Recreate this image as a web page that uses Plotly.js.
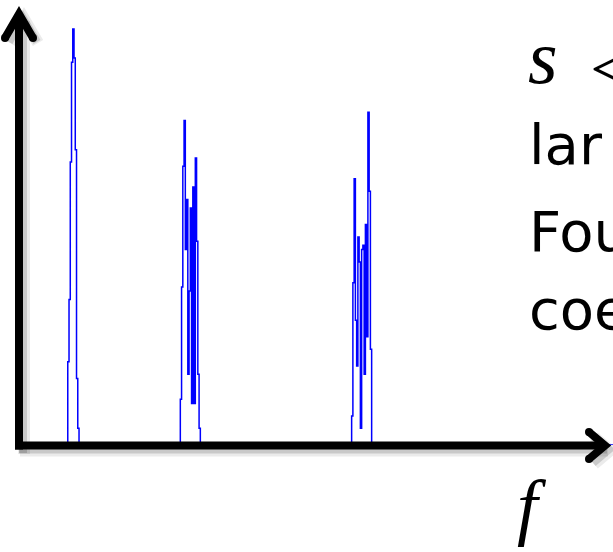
<!DOCTYPE html>
<html>
<head>
<meta charset="utf-8">
<script src="https://cdn.plot.ly/plotly-3.0.1.min.js"></script>
<style>html,body{margin:0;padding:0;background:#fff;overflow:hidden}#chart{width:613px;height:552px}</style>
</head>
<body>
<div id="chart"></div>
<script>
// Spectrum: three narrow clusters of Fourier coefficients (normalised magnitude)
const spikeStarts = [39, 129, 266];          // first frequency bin of each cluster
const spike1 = [0.20, 0.35, 0.68, 0.92, 1.00, 0.93, 0.71, 0.16, 0.04];
const spike2 = [0.11, 0.38, 0.67, 0.78, 0.47, 0.59, 0.17, 0.37, 0.57, 0.10, 0.62, 0.10, 0.69, 0.49, 0.17, 0.04];
const spike3 = [0.07, 0.39, 0.64, 0.30, 0.19, 0.50, 0.44, 0.04, 0.47, 0.48, 0.17, 0.53, 0.26, 0.80, 0.61, 0.23];
const freqMax = 475;
const textLines = ["lar", "Fou", "coe"];

const spikes = [spike1, spike2, spike3];
const xs = [0], ys = [0];
spikes.forEach((a, k) => {
  const s = spikeStarts[k];
  xs.push(s - 1); ys.push(0);
  a.forEach((v, i) => { xs.push(s + i); ys.push(v); });
  xs.push(s + a.length); ys.push(0);
});
xs.push(freqMax); ys.push(0);

// pixel -> paper helpers (plot area: left 19, top 0, width 594, height 445)
const W = 594, H = 445, L = 19;
const px = x => (x - L) / W;
const py = y => (H - y) / H;

const shapes = [];
function seg(x0, y0, x1, y1, color, width, layer) {
  shapes.push({type: 'line', xref: 'paper', yref: 'paper', x0: px(x0), y0: py(y0), x1: px(x1), y1: py(y1),
    line: {color: color, width: width}, layer: layer});
}
function path(pts, color, width, layer) {
  const d = pts.map((p, i) => (i ? 'L' : 'M') + px(p[0]) + ',' + py(p[1])).join(' ');
  shapes.push({type: 'path', xref: 'paper', yref: 'paper', path: d, line: {color: color, width: width}, layer: layer});
}
function dot(x, y, r, color, layer) {
  shapes.push({type: 'circle', xref: 'paper', yref: 'paper', x0: px(x - r), x1: px(x + r), y0: py(y + r), y1: py(y - r),
    fillcolor: color, line: {width: 0}, layer: layer});
}
// soft shadows
[[5, 'rgba(0,0,0,0.08)', 12], [4, 'rgba(0,0,0,0.14)', 8]].forEach(([o, c, w]) => {
  seg(19 + o, 449 + o, 19 + o, 16 + o, c, w, 'below');
  seg(15 + o, 445.5 + o, 603 + o, 445.5 + o, c, w, 'below');
  path([[5 + o, 38 + o], [19 + o, 14 + o], [33 + o, 38 + o]], c, w, 'below');
  path([[589 + o, 432 + o], [605 + o, 445.5 + o], [589 + o, 459 + o]], c, w, 'below');
});
// axes
seg(19, 449.5, 19, 16, '#000', 8, 'above');
seg(15, 445.5, 603, 445.5, '#000', 8, 'above');
path([[5, 38], [19, 14], [33, 38]], '#000', 8, 'above');
dot(5, 38, 4, '#000', 'above'); dot(33, 38, 4, '#000', 'above');
path([[589, 432], [605, 445.5], [589, 459]], '#000', 8, 'above');
dot(589, 432, 4, '#000', 'above'); dot(589, 459, 4, '#000', 'above');

const sans = {family: 'DejaVu Sans', size: 56, color: '#000'};
const annotations = [
  {text: '<i>s</i>', x: px(527), y: py(100), xanchor: 'left', yanchor: 'bottom',
   font: {family: 'Liberation Serif', size: 76, color: '#000'}},
  {text: '&lt;', x: px(589), y: py(110), xanchor: 'left', yanchor: 'bottom',
   font: {family: 'Liberation Serif', size: 72, color: '#000'}},
  {text: '<i>f</i>', x: px(516), y: py(548), xanchor: 'left', yanchor: 'bottom',
   font: {family: 'Liberation Serif', size: 74, color: '#000'}},
];
const baselines = [162, 249, 327];
textLines.forEach((t, i) => annotations.push({text: t, x: px(528), y: py(baselines[i] + 16), xanchor: 'left', yanchor: 'bottom', font: sans}));
annotations.forEach(a => { a.xref = 'paper'; a.yref = 'paper'; a.showarrow = false; a.borderpad = 0; });

const trace = {x: xs, y: ys, type: 'scatter', mode: 'lines', line: {shape: 'hv', color: '#0000ff', width: 1.5}, hoverinfo: 'skip'};

const axis = {showgrid: false, zeroline: false, showticklabels: false, showline: false, ticks: '', fixedrange: true};
const layout = {
  width: 613, height: 552, margin: {l: L, r: 0, t: 0, b: 552 - H},
  paper_bgcolor: '#fff', plot_bgcolor: 'rgba(0,0,0,0)', showlegend: false,
  xaxis: Object.assign({range: [0, freqMax]}, axis),
  yaxis: Object.assign({range: [0, H / 416]}, axis),
  shapes: shapes, annotations: annotations
};
Plotly.newPlot('chart', [trace], layout, {staticPlot: true, displayModeBar: false});
</script>
</body>
</html>
